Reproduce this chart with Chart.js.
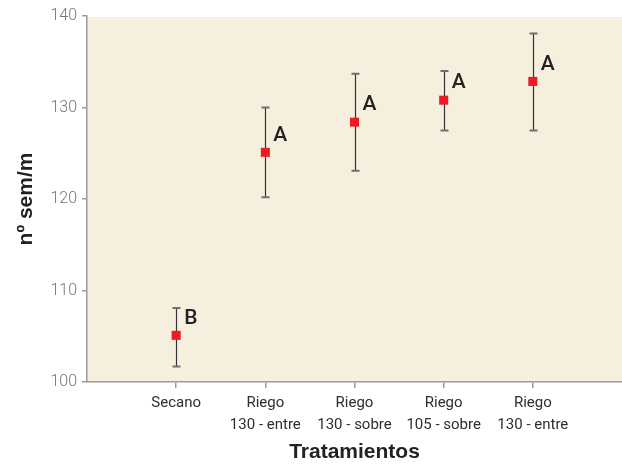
<!DOCTYPE html>
<html>
<head>
<meta charset="utf-8">
<script src="https://cdn.jsdelivr.net/npm/chart.js@4/dist/chart.umd.min.js"></script>
<style>
  html, body { margin: 0; padding: 0; background: #ffffff; }
  #wrap { width: 622px; height: 468px; position: relative; }
</style>
</head>
<body>
<div id="wrap"><canvas id="c"></canvas></div>
<script>
// ---- data ----
const categories = ['Secano', ['Riego', '130 - entre'], ['Riego', '130 - sobre'], ['Riego', '105 - sobre'], ['Riego', '130 - entre']];
const means   = [105.1, 125.1, 128.4, 130.8, 132.85];
const errLow  = [101.7, 120.2, 123.1, 127.5, 127.5];
const errHigh = [108.1, 130.0, 133.7, 134.0, 138.1];
const letters = ['B', 'A', 'A', 'A', 'A'];
const yTicks  = [100, 110, 120, 130, 140];

const points = means.map((m, i) => ({ x: i + 1, y: m }));

const bgPlugin = {
  id: 'bg',
  beforeDraw(chart) {
    const { ctx, chartArea: a } = chart;
    ctx.save();
    ctx.fillStyle = '#F6EFDE';
    ctx.fillRect(a.left, a.top + 1, a.right - a.left, a.bottom - a.top - 1);
    ctx.restore();
  }
};

const errPlugin = {
  id: 'err',
  beforeDatasetsDraw(chart) {
    const { ctx, scales: { x, y } } = chart;
    ctx.save();
    errLow.forEach((lo, i) => {
      const px = Math.round(x.getPixelForValue(i + 1)) + 0.5;
      const yLo = y.getPixelForValue(lo);
      const yHi = y.getPixelForValue(errHigh[i]);
      ctx.strokeStyle = '#333333';
      ctx.lineWidth = 1.2;
      ctx.beginPath();
      ctx.moveTo(px, yLo);
      ctx.lineTo(px, yHi);
      ctx.stroke();
      ctx.strokeStyle = '#6f6f6f';
      ctx.lineWidth = 2;
      ctx.beginPath();
      ctx.moveTo(px - 4, yLo); ctx.lineTo(px + 4, yLo);
      ctx.moveTo(px - 4, yHi); ctx.lineTo(px + 4, yHi);
      ctx.stroke();
    });
    ctx.restore();
  },
  afterDatasetsDraw(chart) {
    const { ctx, scales: { x, y } } = chart;
    ctx.save();
    ctx.fillStyle = '#222222';
    ctx.font = '500 21px Roboto, "Liberation Sans", Arial, sans-serif';
    ctx.textAlign = 'left';
    ctx.textBaseline = 'middle';
    letters.forEach((t, i) => {
      const px = x.getPixelForValue(i + 1);
      const py = y.getPixelForValue(means[i]);
      ctx.fillText(t, px + 8, py - 17);
    });
    ctx.restore();
  }
};

new Chart(document.getElementById('c'), {
  type: 'scatter',
  data: {
    datasets: [{
      data: points,
      pointStyle: 'rect',
      pointRadius: 6.4,
      pointBorderWidth: 0,
      backgroundColor: '#ED1C24',
      borderColor: '#ED1C24'
    }]
  },
  options: {
    responsive: true,
    maintainAspectRatio: false,
    animation: false,
    layout: { autoPadding: false, padding: { top: 16, right: 0, left: 0, bottom: 0 } },
    plugins: { legend: { display: false }, tooltip: { enabled: false } },
    scales: {
      x: {
        type: 'linear',
        min: 0,
        max: 6,
        afterBuildTicks: (s) => { s.ticks = [0, 1, 2, 3, 4, 5, 6].map(v => ({ value: v })); },
        ticks: {
          autoSkip: false,
          maxRotation: 0,
          padding: 5,
          color: '#2e2e2e',
          font: { family: 'Roboto', size: 15, weight: 400, lineHeight: 1.42 },
          callback: (v) => categories[v - 1] !== undefined ? categories[v - 1] : ''
        },
        grid: {
          drawOnChartArea: false,
          tickLength: 6,
          lineWidth: 1.5,
          color: (c) => (c.tick && c.tick.value >= 1 && c.tick.value <= 5) ? '#9a9a9a' : 'rgba(0,0,0,0)'
        },
        border: { color: '#9a9a9a', width: 1.5 },
        title: {
          display: true,
          text: 'Tratamientos',
          color: '#222222',
          font: { family: 'Liberation Sans', size: 21, weight: 'bold' },
          padding: { top: 0, bottom: 3 }
        },
        afterFit: (s) => { s.height = 86; s.paddingLeft = 0; s.paddingRight = 0; }
      },
      y: {
        min: 100,
        max: 140,
        afterBuildTicks: (s) => { s.ticks = yTicks.map(v => ({ value: v })); },
        ticks: {
          padding: 5,
          color: '#777777',
          font: { family: 'Roboto', size: 16, weight: 300 }
        },
        grid: { drawOnChartArea: false, tickLength: 5, lineWidth: 1.5, color: '#9a9a9a' },
        border: { color: '#9a9a9a', width: 1.5 },
        title: {
          display: true,
          text: 'nº sem/m',
          color: '#222222',
          font: { family: 'Liberation Sans', size: 21, weight: 'bold' },
          padding: { top: 14, bottom: 0 }
        },
        afterFit: (s) => { s.width = 87; }
      }
    }
  },
  plugins: [bgPlugin, errPlugin]
});
</script>
</body>
</html>
